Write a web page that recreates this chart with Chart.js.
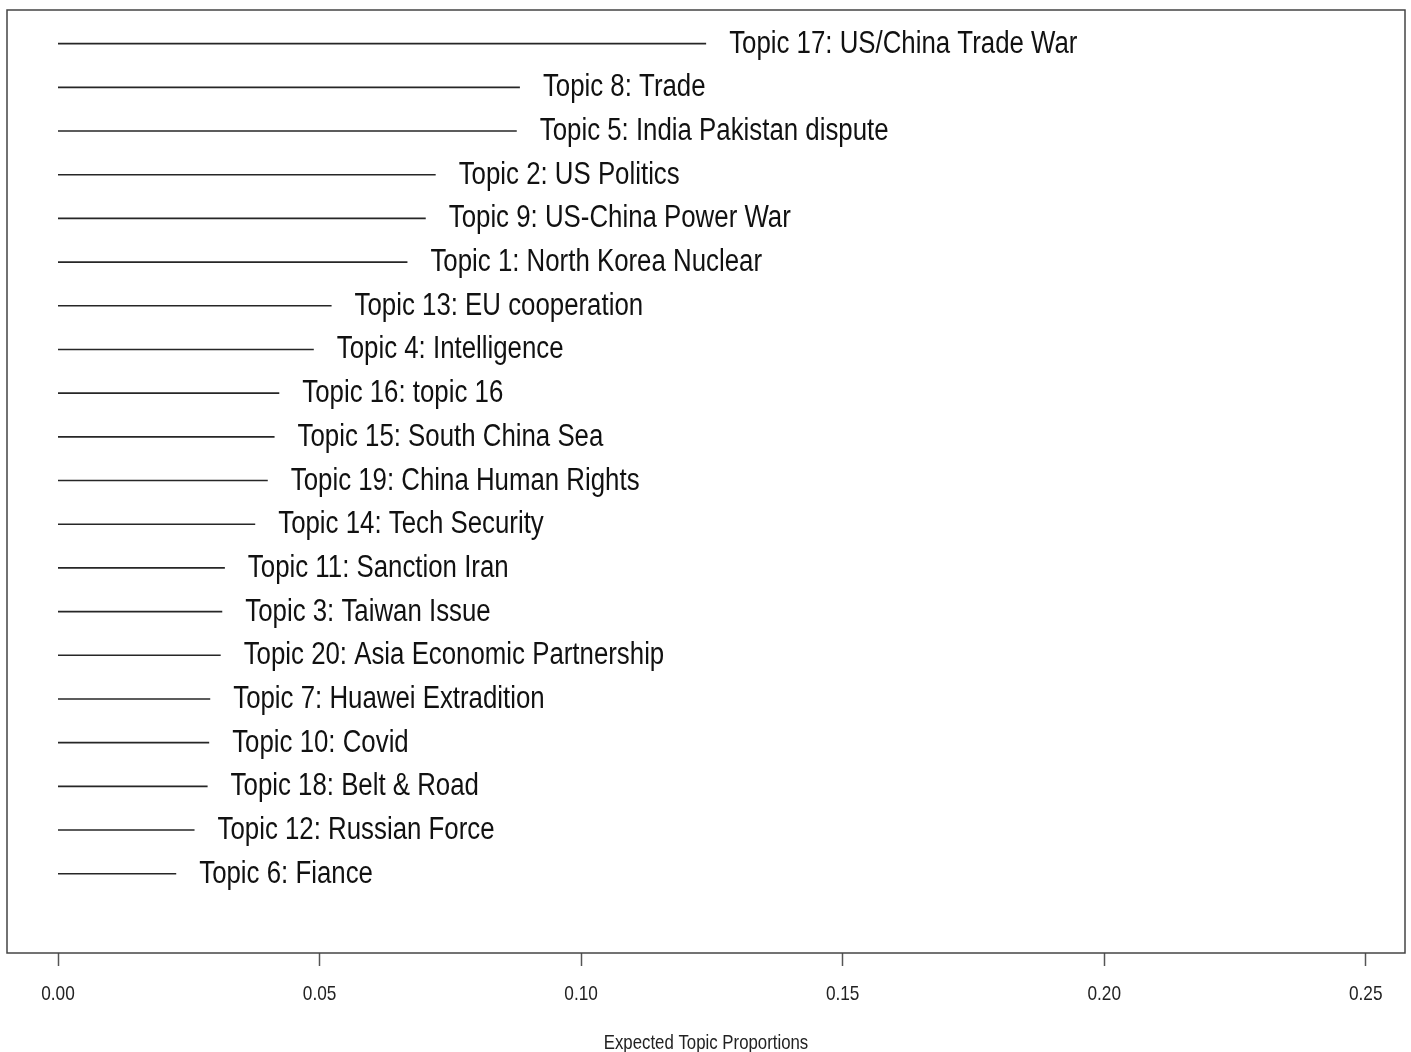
<!DOCTYPE html>
<html>
<head>
<meta charset="utf-8">
<script src="https://cdn.jsdelivr.net/npm/chart.js@4.4.1/dist/chart.umd.min.js"></script>
<style>
  html, body { margin: 0; padding: 0; background: #ffffff; }
  #wrap { width: 1411px; height: 1052px; }
</style>
</head>
<body>
<div id="wrap"><canvas id="c" width="1411" height="1052"></canvas></div>
<script>
// Topics, ordered from the top row to the bottom row
const topicLabels = [
  "Topic 17: US/China Trade War",
  "Topic 8: Trade",
  "Topic 5: India Pakistan dispute",
  "Topic 2: US Politics",
  "Topic 9: US-China Power War",
  "Topic 1: North Korea Nuclear",
  "Topic 13: EU cooperation",
  "Topic 4: Intelligence",
  "Topic 16: topic 16",
  "Topic 15: South China Sea",
  "Topic 19: China Human Rights",
  "Topic 14: Tech Security",
  "Topic 11: Sanction Iran",
  "Topic 3: Taiwan Issue",
  "Topic 20: Asia Economic Partnership",
  "Topic 7: Huawei Extradition",
  "Topic 10: Covid",
  "Topic 18: Belt & Road",
  "Topic 12: Russian Force",
  "Topic 6: Fiance"
];

// Expected topic proportions, same order
const proportions = [
  0.1239, 0.0883, 0.0877, 0.0722, 0.0703, 0.0668, 0.0523, 0.0489, 0.0423, 0.0414,
  0.0401, 0.0377, 0.0319, 0.0314, 0.0311, 0.0291, 0.0289, 0.0286, 0.0261, 0.0226
];

// X axis tick values
const xTicks = [0, 0.05, 0.10, 0.15, 0.20, 0.25];

const axisTitle = "Expected Topic Proportions";

const FONT = "'Liberation Sans', Arial, Helvetica, sans-serif";
const nRows = topicLabels.length;

// draw text squeezed horizontally (narrow Helvetica look)
function narrowText(ctx, text, x, y, size, squeeze, align) {
  ctx.save();
  ctx.font = size + "px " + FONT;
  ctx.textBaseline = 'alphabetic';
  ctx.textAlign = align;
  ctx.translate(x, y);
  ctx.scale(squeeze, 1);
  ctx.fillText(text, 0, 0);
  ctx.restore();
}

// one horizontal segment per topic, from 0 to its proportion
const datasets = topicLabels.map((label, i) => {
  const row = nRows - i;
  return {
    label: label,
    data: [{ x: 0, y: row }, { x: proportions[i], y: row }],
    showLine: true,
    borderColor: '#262626',
    borderWidth: 1.6,
    pointRadius: 0,
    pointHoverRadius: 0,
    fill: false
  };
});

// frame around the plotting region
const framePlugin = {
  id: 'frame',
  afterDraw(chart) {
    const { ctx, chartArea: a } = chart;
    ctx.save();
    ctx.strokeStyle = '#444444';
    ctx.lineWidth = 1.5;
    ctx.strokeRect(a.left, a.top, a.right - a.left, a.bottom - a.top);
    ctx.restore();
  }
};

// topic names past each segment, x tick labels and axis title
const textPlugin = {
  id: 'narrowLabels',
  afterDraw(chart) {
    const { ctx } = chart;
    const xs = chart.scales.x, ys = chart.scales.y;
    ctx.save();
    ctx.fillStyle = '#111111';
    topicLabels.forEach((label, i) => {
      const px = xs.getPixelForValue(proportions[i]);
      const py = ys.getPixelForValue(nRows - i);
      narrowText(ctx, label, px + 23, py + 9, 31, 0.833, 'left');
    });
    ctx.fillStyle = '#222222';
    xs.ticks.forEach(t => {
      narrowText(ctx, Number(t.value).toFixed(2), xs.getPixelForValue(t.value), 1000, 21, 0.82, 'center');
    });
    narrowText(ctx, axisTitle, (xs.left + xs.right) / 2, 1049, 21, 0.80, 'center');
    ctx.restore();
  }
};

new Chart(document.getElementById('c'), {
  type: 'scatter',
  data: { datasets },
  options: {
    responsive: false,
    devicePixelRatio: 1,
    animation: false,
    layout: { padding: { left: 7, right: 6, top: 10, bottom: 0 } },
    plugins: {
      legend: { display: false },
      tooltip: { enabled: false }
    },
    scales: {
      x: {
        type: 'linear',
        min: -0.00975,
        max: 0.2575,
        afterBuildTicks(scale) {
          scale.ticks = xTicks.map(v => ({ value: v }));
        },
        afterFit(scale) {
          scale.height = 99;
        },
        border: { display: false },
        grid: {
          drawOnChartArea: false,
          drawTicks: true,
          tickLength: 13,
          tickColor: '#555555',
          tickWidth: 1.5
        },
        ticks: { display: false }
      },
      y: {
        type: 'linear',
        display: false,
        min: -0.815,
        max: 20.77
      }
    }
  },
  plugins: [framePlugin, textPlugin]
});
</script>
</body>
</html>
